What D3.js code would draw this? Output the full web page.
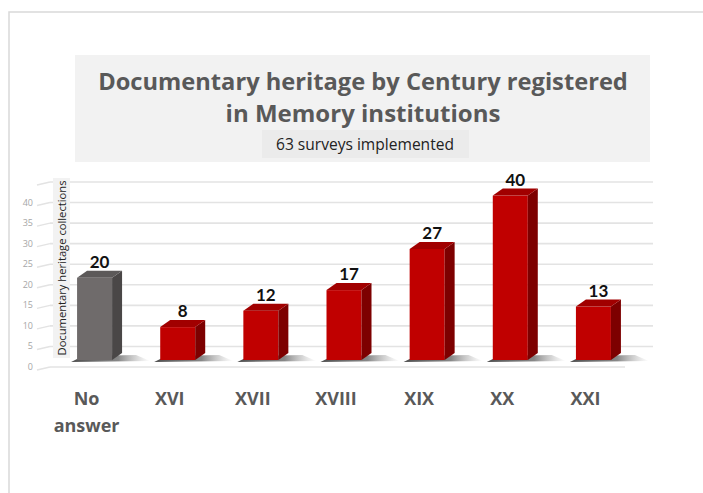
<!DOCTYPE html>
<html>
<head>
<meta charset="utf-8">
<script src="https://cdn.jsdelivr.net/npm/d3@7"></script>
<style>
  html, body { margin: 0; padding: 0; background: #ffffff; }
  svg { display: block; font-family: "Open Sans", Lato, sans-serif; }
</style>
</head>
<body>
<div id="chart"></div>
<script>
// chart data
const categories = ["No answer", "XVI", "XVII", "XVIII", "XIX", "XX", "XXI"];
const values = [20, 8, 12, 17, 27, 40, 13];
const yTicks = [0, 5, 10, 15, 20, 25, 30, 35, 40];
const gridValues = [0, 5, 10, 15, 20, 25, 30, 35, 40, 45];
const titleLines = ["Documentary heritage by Century registered", "in Memory institutions"];
const subtitle = "63 surveys implemented";
const yTitle = "Documentary heritage collections";

const W = 703, H = 493;

// 3d look of the bars
const BAR_W = 35;
const DEPTH_X = 10;
const DEPTH_Y = 7;

const svg = d3.select("#chart")
    .append("svg")
    .attr("width", W)
    .attr("height", H);

// shrink or grow a text's font so it spans about the given width
function fitWidth(sel, width) {
    const size = +sel.attr("font-size");
    const len = sel.node().getComputedTextLength();
    if (len > 0) sel.attr("font-size", (size * width / len).toFixed(2));
}

const defs = svg.append("defs");

let shadowGrad = defs.append("linearGradient")
    .attr("id", "shadow")
    .attr("x1", "0").attr("x2", "1")
    .attr("y1", "0").attr("y2", "0");
shadowGrad.append("stop").attr("offset", "0").attr("stop-color", "#3a3a3a").attr("stop-opacity", 0.9);
shadowGrad.append("stop").attr("offset", "0.6").attr("stop-color", "#555").attr("stop-opacity", 0.7);
shadowGrad.append("stop").attr("offset", "1").attr("stop-color", "#999").attr("stop-opacity", 0);

// outer frame (top and left edge only)
svg.append("path")
    .attr("d", "M9," + H + "V12H" + W)
    .attr("fill", "none")
    .attr("stroke", "#d9d9d9")
    .attr("stroke-width", 1.5);

// title box
svg.append("rect")
    .attr("x", 75).attr("y", 55)
    .attr("width", 575).attr("height", 107)
    .attr("fill", "#f2f2f2");

svg.append("rect")
    .attr("x", 262).attr("y", 130)
    .attr("width", 207).attr("height", 28)
    .attr("fill", "#ebebeb");

const titleWidths = [530, 275];
svg.selectAll(".title")
    .data(titleLines)
    .enter()
    .append("text")
    .attr("class", "title")
    .attr("x", 363)
    .attr("y", function(d, i) { return 90 + i * 32; })
    .attr("text-anchor", "middle")
    .attr("fill", "#595959")
    .attr("font-weight", "bold")
    .attr("font-size", 24)
    .text(function(d) { return d; })
    .each(function(d, i) { fitWidth(d3.select(this), titleWidths[i]); });

svg.append("text")
    .attr("x", 365)
    .attr("y", 150)
    .attr("text-anchor", "middle")
    .attr("fill", "#222")
    .attr("font-size", 14)
    .text(subtitle)
    .call(fitWidth, 178);

// scales
let x = d3.scalePoint()
    .domain(categories)
    .range([53, 635])
    .padding(0.5);

let y = d3.scaleLinear()
    .domain([0, 45])
    .range([367, 182]);

// gridlines on the back wall
svg.append("g")
    .selectAll("line")
    .data(gridValues)
    .enter()
    .append("line")
    .attr("x1", 50)
    .attr("x2", function(d) { return d === 0 ? 625 : 653; })
    .attr("y1", function(d) { return y(d); })
    .attr("y2", function(d) { return y(d); })
    .attr("stroke", "#e3e3e3")
    .attr("stroke-width", 1.6);

// slanted left ends of the gridlines
svg.append("g")
    .selectAll("line")
    .data(gridValues)
    .enter()
    .append("line")
    .attr("x1", 37)
    .attr("x2", 50)
    .attr("y1", function(d) { return y(d) + 3; })
    .attr("y2", function(d) { return y(d); })
    .attr("stroke", "#e3e3e3")
    .attr("stroke-width", 1.4);

// y tick labels
svg.append("g")
    .selectAll("text")
    .data(yTicks)
    .enter()
    .append("text")
    .attr("x", 33)
    .attr("y", function(d) { return y(d) + 3; })
    .attr("text-anchor", "end")
    .attr("fill", "#a6a6a6")
    .attr("font-size", 9)
    .text(function(d) { return d; });

// y axis title
svg.append("rect")
    .attr("x", 53).attr("y", 178)
    .attr("width", 17).attr("height", 180)
    .attr("fill", "#f2f2f2");

svg.append("text")
    .attr("transform", "translate(66, 268) rotate(-90)")
    .attr("text-anchor", "middle")
    .attr("fill", "#222")
    .attr("font-size", 12)
    .text(yTitle)
    .call(fitWidth, 175);

// bars
const data = categories.map(function(c, i) { return {label: c, value: values[i]}; });
const base = y(0) - DEPTH_Y;

let bars = svg.append("g")
    .selectAll("g")
    .data(data)
    .enter()
    .append("g");

function colors(d) {
    if (d.label === "No answer") {
        return {front: "#6f6b6b", side: "#4a4747", top: "#5c5959"};
    }
    return {front: "#c00000", side: "#7d0000", top: "#a10000"};
}

bars.append("path")
    .attr("d", function(d) {
        const x0 = x(d.label) - BAR_W / 2;
        const x1 = x0 + BAR_W + DEPTH_X;
        return "M" + (x0 - 6) + "," + (base + 2)
            + "L" + (x1 + 28) + "," + (base + 1)
            + "L" + (x1 + 14) + "," + (base - 5)
            + "L" + (x0 + 6) + "," + (base - 4) + "Z";
    })
    .attr("fill", "url(#shadow)");

bars.append("rect")
    .attr("x", function(d) { return x(d.label) - BAR_W / 2; })
    .attr("y", function(d) { return y(d.value) - DEPTH_Y; })
    .attr("width", BAR_W)
    .attr("height", function(d) { return base - (y(d.value) - DEPTH_Y); })
    .attr("fill", function(d) { return colors(d).front; });

bars.append("path")
    .attr("d", function(d) {
        const xr = x(d.label) + BAR_W / 2;
        const t = y(d.value) - DEPTH_Y;
        return "M" + xr + "," + t
            + "L" + (xr + DEPTH_X) + "," + (t - DEPTH_Y)
            + "L" + (xr + DEPTH_X) + "," + (base - DEPTH_Y)
            + "L" + xr + "," + base + "Z";
    })
    .attr("fill", function(d) { return colors(d).side; });

bars.append("path")
    .attr("d", function(d) {
        const xl = x(d.label) - BAR_W / 2;
        const t = y(d.value) - DEPTH_Y;
        return "M" + xl + "," + t
            + "L" + (xl + BAR_W) + "," + t
            + "L" + (xl + BAR_W + DEPTH_X) + "," + (t - DEPTH_Y)
            + "L" + (xl + DEPTH_X) + "," + (t - DEPTH_Y) + "Z";
    })
    .attr("fill", function(d) { return colors(d).top; });

// value labels
bars.append("text")
    .attr("x", function(d) { return x(d.label) + DEPTH_X / 2; })
    .attr("y", function(d) { return y(d.value) - 2 * DEPTH_Y - 3; })
    .attr("text-anchor", "middle")
    .attr("fill", "#111")
    .attr("font-family", "Lato, 'Open Sans', sans-serif")
    .attr("font-weight", "bold")
    .attr("font-size", 17)
    .text(function(d) { return d.value; });

// category labels
let cats = svg.append("g")
    .selectAll("text")
    .data(categories)
    .enter()
    .append("text")
    .attr("x", function(d) { return x(d) - 8; })
    .attr("y", 405)
    .attr("text-anchor", "middle")
    .attr("fill", "#595959")
    .attr("font-weight", "bold")
    .attr("font-size", 18);

cats.each(function(d) {
    const words = d === "No answer" ? ["No", "answer"] : [d];
    const t = d3.select(this);
    words.forEach(function(w, i) {
        t.append("tspan")
            .attr("x", x(d) - 8)
            .attr("dy", i === 0 ? 0 : 27)
            .text(w);
    });
});
</script>
</body>
</html>
